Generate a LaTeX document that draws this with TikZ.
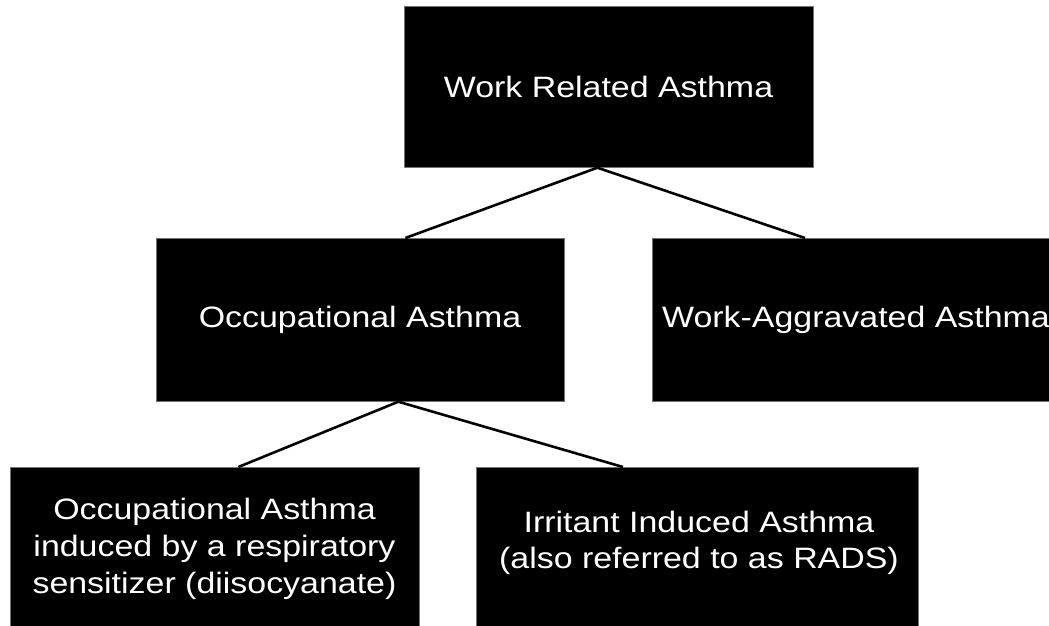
\documentclass[tikz,border=0pt]{standalone}
\usepackage{fontspec}
\setmainfont[FakeStretch=1.15]{Liberation Sans}
\usetikzlibrary{calc}
\begin{document}
\begin{tikzpicture}[x=1pt,y=-1pt,
  box/.style={fill=black, draw=black!55, line width=0.7pt, inner sep=0pt, anchor=north west},
  lbl/.style={text=white, align=center, inner sep=0pt, font=\fontsize{29.5}{36.7}\selectfont},
  link/.style={draw=black, line width=2.6pt}]
\useasboundingbox (0,0) rectangle (1049,625);
% boxes
\node[box, minimum width=409pt, minimum height=161pt] (top) at (404,6) {};
\node[box, minimum width=408pt, minimum height=163pt] (occ) at (156,238) {};
\node[box, minimum width=408pt, minimum height=163pt] (wa) at (652,238) {};
\node[box, minimum width=409pt, minimum height=175pt] (bl) at (10,467) {};
\node[box, minimum width=442pt, minimum height=175pt] (br) at (476,467) {};
% labels
\node[lbl] (ttop) at (608.5,86.5) {Work Related Asthma};
\node[lbl] (tocc) at (360,319.5) {Occupational Asthma};
\node[lbl] (twa) at (856,319.5) {Work-Aggravated Asthma};
\node[lbl] (tbl) at (214.5,549) {Occupational Asthma\\induced by a respiratory\\sensitizer (diisocyanate)};
\node[lbl] (tbr) at (699,543) {Irritant Induced Asthma\\(also referred to as RADS)};
% junctions
\coordinate (j1) at ($(top.south)+(-11.5,0)$);
\coordinate (j2) at ($(occ.south)+(38,0)$);
% connectors
\draw[link] (j1) -- ($(occ.north)+(45,0)$);
\draw[link] (j1) -- ($(wa.north west)+(153,0)$);
\draw[link] (j2) -- ($(bl.north)+(23.5,0)$);
\draw[link] (j2) -- ($(br.north west)+(147,0)$);
\end{tikzpicture}
\end{document}
